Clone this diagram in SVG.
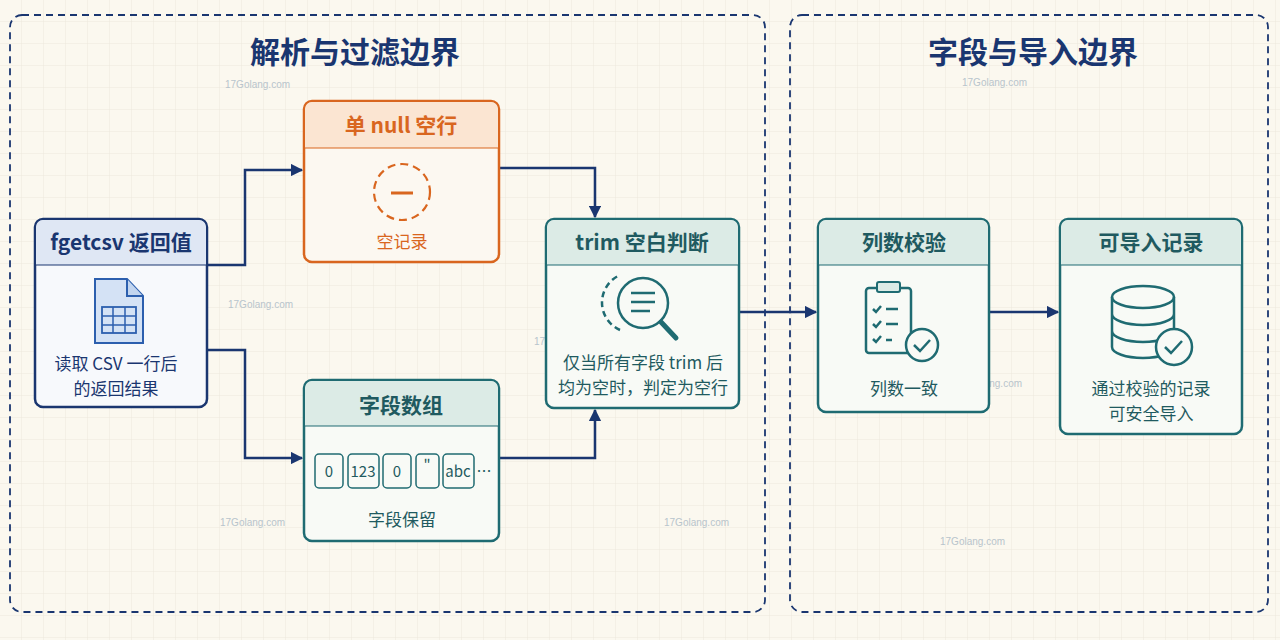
<svg xmlns="http://www.w3.org/2000/svg" width="1280" height="640" viewBox="0 0 1280 640">
<defs>
<pattern id="grid" width="22" height="22" patternUnits="userSpaceOnUse"><path d="M22 0V22H0" fill="none" stroke="#ece8dc" stroke-width="1"/></pattern>
<marker id="ar" viewBox="0 0 10 10" refX="9" refY="5" markerWidth="5" markerHeight="5" orient="auto"><path d="M0 0L10 5L0 10z" fill="#1a3670"/></marker>
<style>
text{font-family:"Noto Sans CJK SC","Noto Sans",sans-serif;text-anchor:middle}
.panel{fill:none;stroke:#1a3670;stroke-width:1.8;stroke-dasharray:7 5}
.title{font-size:30px;font-weight:700;fill:#1a3670}
.hd{font-size:21px;font-weight:700}
.bd{font-size:17px}
.conn{fill:none;stroke:#1a3670;stroke-width:2.5;marker-end:url(#ar)}
.wm{font-family:"Liberation Sans",sans-serif;font-size:10px;fill:#b8c4cc;text-anchor:start}
.teal{stroke:#1f6b72;fill:none;stroke-width:2.5}
</style>
</defs>
<rect width="1280" height="640" fill="#fbf8ef"/>
<rect width="1280" height="640" fill="url(#grid)"/>
<rect class="panel" x="10" y="15" width="755" height="597" rx="12"/>
<rect class="panel" x="790" y="15" width="478" height="597" rx="12"/>
<text class="title" x="355" y="63">解析与过滤边界</text>
<text class="title" x="1033" y="63">字段与导入边界</text>
<g>
<text class="wm" x="225" y="88">17Golang.com</text><text class="wm" x="962" y="86">17Golang.com</text>
<text class="wm" x="228" y="308">17Golang.com</text><text class="wm" x="534" y="345">17Golang.com</text>
<text class="wm" x="957" y="387">17Golang.com</text><text class="wm" x="220" y="526">17Golang.com</text>
<text class="wm" x="664" y="526">17Golang.com</text><text class="wm" x="940" y="545">17Golang.com</text>
</g>
<g id="connectors">
<path class="conn" d="M207 265H245V170H302"/>
<path class="conn" d="M207 350H245V458H302"/>
<path class="conn" d="M499 168H595V217"/>
<path class="conn" d="M499 458H595V410"/>
<path class="conn" d="M739 312H816"/>
<path class="conn" d="M989 312H1058"/>
</g>
<g id="fgetcsv">
<rect x="35" y="219" width="172" height="188" rx="8" fill="#f7f9fc" stroke="#1a3670" stroke-width="2.5"/>
<path d="M36 265V227a7 7 0 0 1 7-7H199a7 7 0 0 1 7 7V265z" fill="#dfe7f4"/>
<line x1="36" y1="265" x2="206" y2="265" stroke="#1a3670" stroke-width="1.2"/>
<text class="hd" x="121" y="250" fill="#1a3670">fgetcsv 返回值</text>
<path d="M95 279H127L143 296V343H95z" fill="#d4e2f5" stroke="#2c5fae" stroke-width="2"/>
<path d="M127 279V296H143" fill="#c2d5ef" stroke="#2c5fae" stroke-width="2"/>
<rect x="102" y="307" width="34" height="26" fill="none" stroke="#2c5fae" stroke-width="1.8"/>
<path d="M102 316H136M102 325H136M113 307V333M125 307V333" stroke="#2c5fae" stroke-width="1.5"/>
<text class="bd" x="116" y="370" fill="#1a3670">读取 CSV 一行后</text>
<text class="bd" x="116" y="395" fill="#1a3670">的返回结果</text>
</g>
<g id="nullrow">
<rect x="304" y="101" width="195" height="161" rx="8" fill="#fcf8f1" stroke="#d9661f" stroke-width="2.5"/>
<path d="M305 148V109a7 7 0 0 1 7-7H491a7 7 0 0 1 7 7V148z" fill="#fbe5d2"/>
<line x1="305" y1="148" x2="498" y2="148" stroke="#d9661f" stroke-width="1.2"/>
<text class="hd" x="401" y="133" fill="#d9661f">单 null 空行</text>
<circle cx="402" cy="192" r="28" fill="none" stroke="#d9661f" stroke-width="2.2" stroke-dasharray="8 5"/>
<line x1="391" y1="193" x2="413" y2="193" stroke="#d9661f" stroke-width="3"/>
<text class="bd" x="402" y="248" fill="#d9661f">空记录</text>
</g>
<g id="fields">
<rect x="304" y="380" width="195" height="161" rx="8" fill="#f8faf6" stroke="#1f6b72" stroke-width="2.5"/>
<path d="M305 426V388a7 7 0 0 1 7-7H491a7 7 0 0 1 7 7V426z" fill="#dcebe6"/>
<line x1="305" y1="426" x2="498" y2="426" stroke="#1f6b72" stroke-width="1.2"/>
<text class="hd" x="401" y="413" fill="#1f5a60">字段数组</text>
<g fill="none" stroke="#1f6b72" stroke-width="1.5">
<rect x="315" y="454" width="28" height="34" rx="4"/><rect x="348" y="454" width="31" height="34" rx="4"/>
<rect x="383" y="454" width="28" height="34" rx="4"/><rect x="416" y="454" width="23" height="34" rx="4"/>
<rect x="443" y="454" width="31" height="34" rx="4"/></g>
<g font-size="15" fill="#1f5a60"><text x="329" y="477">0</text><text x="363" y="477">123</text><text x="397" y="477">0</text><text x="427" y="470">"</text><text x="458" y="477">abc</text><text x="484" y="477">…</text></g>
<text class="bd" x="402" y="526" fill="#1f5a60">字段保留</text>
</g>
<g id="trim">
<rect x="546" y="219" width="193" height="189" rx="8" fill="#f8faf6" stroke="#1f6b72" stroke-width="2.5"/>
<path d="M547 265V227a7 7 0 0 1 7-7H731a7 7 0 0 1 7 7V265z" fill="#dcebe6"/>
<line x1="547" y1="265" x2="738" y2="265" stroke="#1f6b72" stroke-width="1.2"/>
<text class="hd" x="642" y="250" fill="#1f5a60">trim 空白判断</text>
<path d="M620 330A30 30 0 0 1 620 275" class="teal" stroke-dasharray="6 4"/>
<circle cx="643" cy="303" r="25" class="teal"/>
<path d="M631 293H655M631 302H655M631 311H650" class="teal"/>
<path d="M661 322L676 338" stroke="#1f6b72" stroke-width="5" stroke-linecap="round"/>
<text class="bd" x="643" y="369" fill="#1f5a60">仅当所有字段 trim 后</text>
<text class="bd" x="643" y="394" fill="#1f5a60">均为空时，判定为空行</text>
</g>
<g id="colcheck">
<rect x="818" y="219" width="171" height="193" rx="8" fill="#f8faf6" stroke="#1f6b72" stroke-width="2.5"/>
<path d="M819 265V227a7 7 0 0 1 7-7H981a7 7 0 0 1 7 7V265z" fill="#dcebe6"/>
<line x1="819" y1="265" x2="988" y2="265" stroke="#1f6b72" stroke-width="1.2"/>
<text class="hd" x="904" y="250" fill="#1f5a60">列数校验</text>
<rect x="866" y="288" width="45" height="65" rx="3" class="teal"/>
<rect x="877" y="282" width="23" height="10" rx="2" fill="#dcebe6" stroke="#1f6b72" stroke-width="2"/>
<path d="M873 309l3 3 5-6M873 324l3 3 5-6M873 339l3 3 5-6M886 309H898M886 324H898M886 340H892" class="teal" stroke-width="2"/>
<circle cx="922" cy="345" r="16" fill="#f8faf6" stroke="#1f6b72" stroke-width="2.5"/>
<path d="M914 345l6 6 10-11" class="teal"/>
<text class="bd" x="904" y="395" fill="#1f5a60">列数一致</text>
</g>
<g id="importable">
<rect x="1060" y="219" width="182" height="215" rx="8" fill="#f8faf6" stroke="#1f6b72" stroke-width="2.5"/>
<path d="M1061 265V227a7 7 0 0 1 7-7H1234a7 7 0 0 1 7 7V265z" fill="#dcebe6"/>
<line x1="1061" y1="265" x2="1241" y2="265" stroke="#1f6b72" stroke-width="1.2"/>
<text class="hd" x="1151" y="250" fill="#1f5a60">可导入记录</text>
<ellipse cx="1143" cy="297" rx="31" ry="11" class="teal"/>
<path d="M1112 297V347A31 11 0 0 0 1174 347V297M1112 314A31 11 0 0 0 1174 314M1112 331A31 11 0 0 0 1174 331" class="teal"/>
<circle cx="1174" cy="347" r="18" fill="#f8faf6" stroke="#1f6b72" stroke-width="2.5"/>
<path d="M1165 347l6 6 11-12" class="teal"/>
<text class="bd" x="1151" y="395" fill="#1f5a60">通过校验的记录</text>
<text class="bd" x="1151" y="420" fill="#1f5a60">可安全导入</text>
</g>
</svg>
